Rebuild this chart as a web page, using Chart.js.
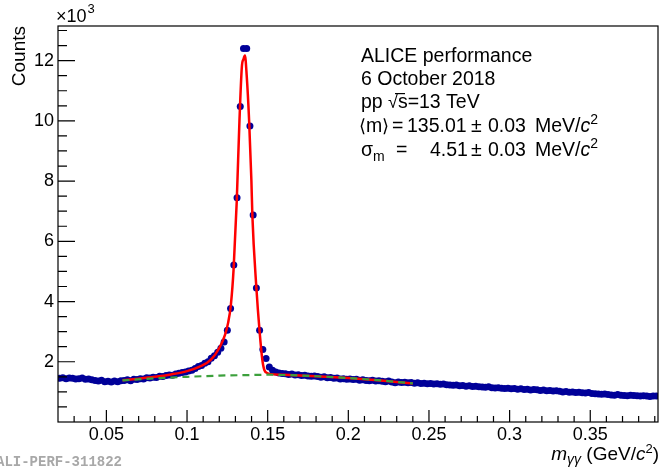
<!DOCTYPE html>
<html lang="en">
<head>
<meta charset="UTF-8">
<title>ALICE performance - diphoton invariant mass</title>
<script src="https://cdn.jsdelivr.net/npm/chart.js@4"></script>
<style>
    body { margin: 0; background: #ffffff; }
    #massChart { display: block; }
</style>
</head>
<body>
<canvas id="massChart" width="662" height="469"></canvas>
<script>
// histogram binning of m_gg (GeV/c^2)
const firstBinCenter = 0.021;
const binWidth = 0.002;

// counts per bin (0.021 ... 0.391)
const counts = [
    1450, 1470, 1440, 1460, 1450, 1430, 1440, 1460, 1420, 1430,
    1400, 1380, 1360, 1390, 1340, 1350, 1330, 1360, 1340, 1370,
    1380, 1400, 1370, 1420, 1410, 1440, 1430, 1470, 1460, 1490,
    1480, 1520, 1510, 1540, 1560, 1550, 1590, 1620, 1640, 1660,
    1690, 1720, 1780, 1840, 1880, 1950, 2000, 2120, 2200, 2320,
    2450, 2660, 3050, 3770, 5210, 7450, 10480, 12400, 12400, 9830,
    6870, 4450, 3050, 2410, 2110, 1830, 1720, 1660, 1630, 1610,
    1600, 1580, 1590, 1560, 1570, 1540, 1550, 1530, 1520, 1530,
    1510, 1490, 1500, 1470, 1480, 1450, 1460, 1430, 1440, 1420,
    1430, 1410, 1420, 1390, 1400, 1380, 1370, 1390, 1360, 1370,
    1350, 1340, 1360, 1330, 1300, 1330, 1310, 1320, 1300, 1310,
    1290, 1300, 1280, 1290, 1270, 1280, 1260, 1270, 1250, 1260,
    1240, 1230, 1220, 1230, 1200, 1210, 1190, 1200, 1180, 1190,
    1170, 1160, 1150, 1170, 1140, 1130, 1140, 1120, 1110, 1120,
    1100, 1110, 1090, 1100, 1080, 1090, 1060, 1080, 1070, 1050,
    1060, 1040, 1050, 1030, 1040, 1020, 1000, 1010, 990, 1000,
    980, 990, 970, 960, 980, 950, 940, 930, 920, 930,
    910, 900, 890, 910, 890, 880, 870, 890, 880, 870,
    860, 870, 860, 850, 860, 860
];

// total fit (signal + background)
const fitX = [0.060, 0.070, 0.080, 0.090, 0.100, 0.1075, 0.1147, 0.1204, 0.1236, 0.1255,
              0.1272, 0.1289, 0.1308, 0.1325, 0.134, 0.135, 0.1359, 0.137, 0.1385, 0.1399,
              0.1405, 0.143, 0.145, 0.1467, 0.148, 0.150, 0.152, 0.160, 0.180, 0.200,
              0.220, 0.240];
const fitY = [1390, 1440, 1500, 1580, 1690, 1830, 2060, 2500, 2900, 3300,
              3900, 5100, 7300, 10000, 11800, 12050, 12170, 11500, 10000, 8030,
              6870, 4450, 3000, 2060, 1720, 1620, 1590, 1570, 1520, 1460,
              1380, 1280];

// residual background
const bgX = [0.06, 0.08, 0.10, 0.12, 0.14, 0.15, 0.16, 0.18, 0.20, 0.22, 0.24];
const bgY = [1380, 1450, 1500, 1540, 1560, 1570, 1560, 1520, 1460, 1380, 1280];

const xTickValues = [0.05, 0.1, 0.15, 0.2, 0.25, 0.3, 0.35];
const yTickValues = [2000, 4000, 6000, 8000, 10000, 12000];

const SANS = "'Liberation Sans', 'DejaVu Sans', Arial, sans-serif";

const histPoints = counts.map((c, i) => ({ x: firstBinCenter + i * binWidth, y: c }));
const fitPoints = fitX.map((x, i) => ({ x: x, y: fitY[i] }));
const bgPoints = bgX.map((x, i) => ({ x: x, y: bgY[i] }));

// draws a run of text pieces one after another
function drawRun(ctx, x, y, parts) {
    for (const p of parts) {
        ctx.font = p.font;
        if (p.at !== undefined) x = p.at;
        ctx.fillText(p.t, x, y + (p.dy || 0));
        x += ctx.measureText(p.t).width;
    }
    return x;
}

const rootFrame = {
    id: 'rootFrame',
    afterDatasetsDraw(chart) {
        const { ctx, chartArea: a, scales: { x, y } } = chart;
        ctx.save();
        ctx.strokeStyle = '#000';
        ctx.lineWidth = 1.2;
        ctx.strokeRect(a.left, a.top, a.right - a.left, a.bottom - a.top);
        ctx.beginPath();
        // x ticks every 0.01, long ones every 0.05
        for (let k = 2; k <= 39; k++) {
            const px = x.getPixelForValue(k / 100);
            if (px <= a.left || px >= a.right) continue;
            const len = k % 5 === 0 ? 12 : 6;
            ctx.moveTo(px, a.bottom);
            ctx.lineTo(px, a.bottom - len);
        }
        // y ticks every 500, long ones every 2000
        for (let k = 1; k <= 26; k++) {
            const py = y.getPixelForValue(k * 500);
            if (py <= a.top) continue;
            const len = k % 4 === 0 ? 17 : 9;
            ctx.moveTo(a.left, py);
            ctx.lineTo(a.left + len, py);
        }
        ctx.stroke();
        ctx.restore();
    },
    afterDraw(chart) {
        const { ctx, chartArea: a } = chart;
        ctx.save();
        ctx.fillStyle = '#000';
        ctx.textBaseline = 'alphabetic';
        ctx.textAlign = 'left';

        const f18 = '18px ' + SANS;
        const f13 = '13px ' + SANS;
        const fL = '19.5px ' + SANS;
        const fLi = 'italic 19.5px ' + SANS;
        const fS = '14px ' + SANS;
        const fB = '18px ' + SANS;

        // y axis title
        ctx.save();
        ctx.translate(25, a.top);
        ctx.rotate(-Math.PI / 2);
        ctx.textAlign = 'right';
        ctx.font = '19px ' + SANS;
        ctx.fillText('Counts', 0, 0);
        ctx.restore();

        // exponent
        const ex = drawRun(ctx, 56, 22, [{ t: '\u00d710', font: f18 }]);
        drawRun(ctx, ex + 1, 13, [{ t: '3', font: f13 }]);

        // x axis title, right-aligned on the frame
        const xParts = [
            { t: 'm', font: 'italic 19px ' + SANS },
            { t: '\u03b3\u03b3', font: 'italic 14px ' + SANS, dy: 4 },
            { t: ' (GeV/', font: '19px ' + SANS },
            { t: 'c', font: 'italic 19px ' + SANS },
            { t: '2', font: f13, dy: -7 },
            { t: ')', font: '19px ' + SANS }
        ];
        let w = 0;
        for (const p of xParts) { ctx.font = p.font; w += ctx.measureText(p.t).width; }
        drawRun(ctx, a.right - w + 1, 460, xParts);

        // legend text block
        const lx = 361;
        drawRun(ctx, lx, 62, [{ t: 'ALICE performance', font: fL }]);
        drawRun(ctx, lx, 85, [{ t: '6 October 2018', font: fL }]);
        drawRun(ctx, lx, 108, [{ t: 'pp', font: fL }]);
        drawRun(ctx, 388, 108, [{ t: '\u221a', font: '18px ' + SANS }, { t: 's=13 TeV', font: fL }]);
        ctx.fillRect(395, 93, 10, 1.2);

        drawRun(ctx, lx, 132, [
            { t: '\u27e8', font: fB, at: 359 },
            { t: 'm', font: fL, at: 366 },
            { t: '\u27e9', font: fB, at: 382 },
            { t: '=', font: fL, at: 392 },
            { t: '135.01', font: fL, at: 407 },
            { t: '\u00b1', font: fL, at: 471 },
            { t: '0.03', font: fL, at: 488 },
            { t: 'MeV/', font: fL, at: 535 },
            { t: 'c', font: fLi },
            { t: '2', font: fS, dy: -8 }
        ]);
        drawRun(ctx, lx, 156, [
            { t: '\u03c3', font: fL },
            { t: 'm', font: fS, dy: 5 },
            { t: '=', font: fL, at: 396 },
            { t: '4.51', font: fL, at: 430 },
            { t: '\u00b1', font: fL, at: 471 },
            { t: '0.03', font: fL, at: 488 },
            { t: 'MeV/', font: fL, at: 535 },
            { t: 'c', font: fLi },
            { t: '2', font: fS, dy: -8 }
        ]);

        // plot id
        ctx.fillStyle = '#a8a8a8';
        ctx.font = "bold 14px 'Liberation Mono', 'DejaVu Sans Mono', monospace";
        ctx.fillText('ALI-PERF-311822', -4, 466);
        ctx.restore();
    }
};

new Chart(document.getElementById('massChart').getContext('2d'), {
    type: 'scatter',
    data: {
        datasets: [
            {
                label: 'background',
                data: bgPoints,
                showLine: true,
                borderColor: '#3ca03c',
                borderWidth: 2.2,
                borderDash: [7, 5],
                pointRadius: 0,
                cubicInterpolationMode: 'monotone',
                order: 0
            },
            {
                label: 'fit',
                data: fitPoints,
                showLine: true,
                borderColor: '#ff0000',
                borderWidth: 2.5,
                pointRadius: 0,
                cubicInterpolationMode: 'monotone',
                order: 1
            },
            {
                label: 'data',
                data: histPoints,
                showLine: false,
                pointRadius: 3.5,
                pointBorderWidth: 0,
                backgroundColor: '#000099',
                borderColor: '#000099',
                order: 2
            }
        ]
    },
    options: {
        responsive: false,
        animation: false,
        layout: { padding: { top: 26, right: 2, left: 0, bottom: 0 } },
        plugins: {
            legend: { display: false },
            tooltip: { enabled: false }
        },
        scales: {
            x: {
                type: 'linear',
                min: 0.02,
                max: 0.392,
                grid: { display: false, drawTicks: false },
                border: { display: false },
                ticks: {
                    color: '#000',
                    font: { family: SANS, size: 18 },
                    padding: 2,
                    maxRotation: 0,
                    autoSkip: false,
                    callback: v => String(+v.toFixed(2))
                },
                afterBuildTicks: s => { s.ticks = xTickValues.map(v => ({ value: v })); },
                afterFit: s => { s.height = 47; }
            },
            y: {
                type: 'linear',
                min: 0,
                max: 13150,
                grid: { display: false, drawTicks: false },
                border: { display: false },
                ticks: {
                    color: '#000',
                    font: { family: SANS, size: 18 },
                    padding: 4,
                    autoSkip: false,
                    callback: v => String(v / 1000)
                },
                afterBuildTicks: s => { s.ticks = yTickValues.map(v => ({ value: v })); },
                afterFit: s => { s.width = 58; }
            }
        }
    },
    plugins: [rootFrame]
});
</script>
</body>
</html>
